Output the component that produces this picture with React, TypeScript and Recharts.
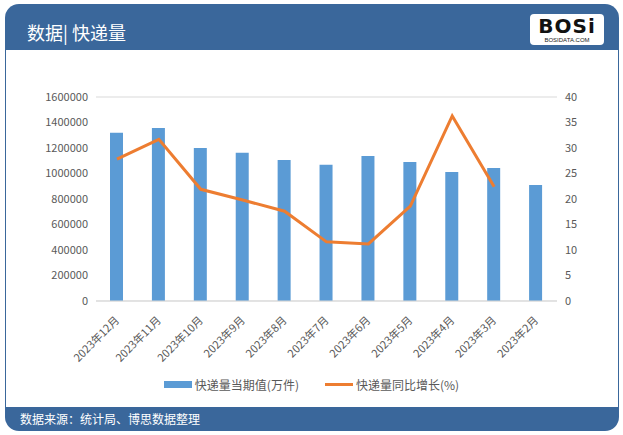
import { ComposedChart, Bar, Line, XAxis, YAxis, CartesianGrid, Legend } from 'recharts';

// 快递量月度数据
const months = [
  '2023年12月', '2023年11月', '2023年10月', '2023年9月', '2023年8月', '2023年7月',
  '2023年6月', '2023年5月', '2023年4月', '2023年3月', '2023年2月',
];
const volume = [1320000, 1357000, 1200000, 1163000, 1106000, 1069000, 1137000, 1090000, 1012000, 1043000, 910000];
const growth: (number | null)[] = [27.8, 31.7, 21.9, 19.8, 17.6, 11.6, 11.2, 18.6, 36.3, 22.4, null];
const leftTicks = [0, 200000, 400000, 600000, 800000, 1000000, 1200000, 1400000, 1600000];
const rightTicks = [0, 5, 10, 15, 20, 25, 30, 35, 40];

const BLUE = '#5B9BD5';
const ORANGE = '#ED7D31';
const HEADER = '#3A679B';
const FONT = '"Noto Sans CJK SC", "Noto Sans", sans-serif';

const data = months.map((m, i) => ({ month: m, volume: volume[i], growth: growth[i] }));

function MonthTick(props: any) {
  const { x, y, payload } = props;
  const ty = y + 12;
  return (
    <text
      x={x + 3}
      y={ty}
      transform={`rotate(-45, ${x + 3}, ${ty})`}
      textAnchor="end"
      fontSize={11}
      fill="#595959"
      fontFamily={FONT}
    >
      {payload.value}
    </text>
  );
}

function LegendBox() {
  return (
    <div style={{ display: 'flex', justifyContent: 'center', fontSize: 12, color: '#595959', fontFamily: FONT }}>
      <span style={{ display: 'flex', alignItems: 'center', marginRight: 26 }}>
        <span style={{ width: 28, height: 7, background: BLUE, marginRight: 3 }} />
        快递量当期值(万件)
      </span>
      <span style={{ display: 'flex', alignItems: 'center' }}>
        <span style={{ width: 28, height: 3, background: ORANGE, marginRight: 3 }} />
        快递量同比增长(%)
      </span>
    </div>
  );
}

export default function App() {
  return (
    <div style={{ position: 'absolute', left: 0, top: 0, width: 623, height: 435, background: '#fff', fontFamily: FONT, overflow: 'hidden' }}>
      {/* 外框 */}
      <div
        style={{
          position: 'absolute', left: 5, top: 4, width: 614, height: 427,
          background: HEADER, borderRadius: 14,
        }}
      />
      <div style={{ position: 'absolute', left: 6, top: 50, width: 612, height: 357, background: '#fff' }} />
      <div style={{ position: 'absolute', left: 27, top: 18, color: '#fff', fontSize: 18, lineHeight: '28px' }}>
        数据| 快递量
      </div>
      {/* logo */}
      <div
        style={{
          position: 'absolute', left: 530, top: 14, width: 74, height: 31, background: '#fff',
          borderRadius: 4, textAlign: 'center', lineHeight: 1,
        }}
      >
        <div style={{ fontFamily: '"DejaVu Sans", sans-serif', fontWeight: 900, fontSize: 20, color: '#111', marginTop: 2, letterSpacing: 1 }}>
          BOSi
        </div>
        <div style={{ fontFamily: '"Liberation Sans", sans-serif', fontSize: 6, color: '#222', marginTop: 1 }}>BOSIDATA.COM</div>
      </div>
      <div style={{ position: 'absolute', left: 20, top: 409, color: '#fff', fontSize: 12, lineHeight: '20px' }}>
        数据来源：统计局、博思数据整理
      </div>

      <div style={{ position: 'absolute', left: 0, top: 0 }}>
        <ComposedChart
          width={623}
          height={405}
          data={data}
          margin={{ top: 97, right: 26, left: 24, bottom: 0 }}
        >
          <CartesianGrid stroke="#D9D9D9" vertical={false} />
          <XAxis
            dataKey="month"
            tick={<MonthTick />}
            interval={0}
            height={87}
            axisLine={{ stroke: '#D9D9D9' }}
            tickLine={false}
          />
          <YAxis
            yAxisId="left"
            domain={[0, 1600000]}
            ticks={leftTicks}
            width={72}
            axisLine={false}
            tickLine={false}
            tick={{ fontSize: 11, fill: '#595959', fontFamily: FONT }}
          />
          <YAxis
            yAxisId="right"
            orientation="right"
            domain={[0, 40]}
            ticks={rightTicks}
            width={40}
            axisLine={false}
            tickLine={false}
            tick={{ fontSize: 11, fill: '#595959', fontFamily: FONT }}
          />
          <Legend
            content={<LegendBox />}
            wrapperStyle={{ position: 'absolute', top: 376, left: 0, width: 623 }}
          />
          <Bar yAxisId="left" dataKey="volume" name="快递量当期值(万件)" fill={BLUE} barSize={13} isAnimationActive={false} />
          <Line
            yAxisId="right"
            type="linear"
            dataKey="growth"
            name="快递量同比增长(%)"
            stroke={ORANGE}
            strokeWidth={3}
            dot={false}
            connectNulls={false}
            isAnimationActive={false}
          />
        </ComposedChart>
      </div>
    </div>
  );
}
